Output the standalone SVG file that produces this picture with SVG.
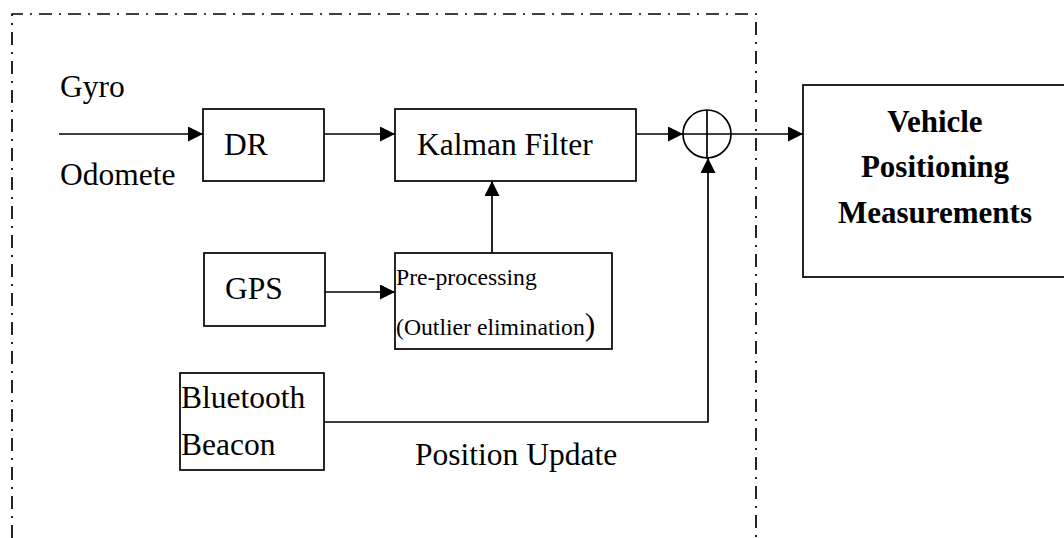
<svg xmlns="http://www.w3.org/2000/svg" width="1064" height="538" viewBox="0 0 1064 538">
  <style>
    .box { fill: #fff; stroke: #000; stroke-width: 1.7; }
    .wire { fill: none; stroke: #000; stroke-width: 1.7; }
    .frame { fill: none; stroke: #000; stroke-width: 1.7; stroke-dasharray: 13 7 2 7; }
    text { font-family: "Liberation Serif", "Times New Roman", serif; fill: #000; }
    .t { font-size: 31.5px; }
    .s { font-size: 23.7px; }
    .b { font-size: 31px; font-weight: bold; text-anchor: middle; }
  </style>
  <defs>
    <marker id="arrow" markerUnits="userSpaceOnUse" markerWidth="16" markerHeight="16" refX="15" refY="7.5" orient="auto">
      <path d="M0,0 L15,7.5 L0,15 Z" fill="#000"/>
    </marker>
  </defs>
  <rect width="1064" height="538" fill="#fff"/>

  <!-- dash-dot system boundary (open at the bottom) -->
  <path class="frame" d="M12,538 L12,14 L756,14 L756,538"/>

  <!-- connectors -->
  <g id="connectors">
    <line class="wire" x1="59" y1="134" x2="203" y2="134" marker-end="url(#arrow)"/>
    <line class="wire" x1="324" y1="134" x2="395" y2="134" marker-end="url(#arrow)"/>
    <line class="wire" x1="636" y1="134" x2="683" y2="134" marker-end="url(#arrow)"/>
    <line class="wire" x1="731" y1="134" x2="803" y2="134" marker-end="url(#arrow)"/>
    <line class="wire" x1="325" y1="292" x2="395" y2="292" marker-end="url(#arrow)"/>
    <line class="wire" x1="492" y1="253" x2="492" y2="181" marker-end="url(#arrow)"/>
    <polyline class="wire" points="324,422 708,422 708,158" marker-end="url(#arrow)"/>
  </g>

  <g id="labels">
    <text class="t" x="60" y="97">Gyro</text>
    <text class="t" x="60" y="185">Odomete</text>
    <text class="t" x="415" y="465">Position Update</text>
  </g>

  <g id="dr">
    <rect class="box" x="203" y="109" width="121" height="72"/>
    <text class="t" x="224" y="155">DR</text>
  </g>

  <g id="kalman">
    <rect class="box" x="395" y="109" width="241" height="72"/>
    <text class="t" x="417" y="155">Kalman Filter</text>
  </g>

  <g id="sum">
    <circle class="box" cx="707" cy="134" r="24"/>
    <line class="wire" x1="683" y1="134" x2="731" y2="134"/>
    <line class="wire" x1="707" y1="110" x2="707" y2="158"/>
  </g>

  <g id="gps">
    <rect class="box" x="204" y="253" width="121" height="73"/>
    <text class="t" x="225" y="299">GPS</text>
  </g>

  <g id="preprocessing">
    <rect class="box" x="395" y="253" width="217" height="96"/>
    <text class="s" x="396" y="285">Pre-processing</text>
    <text class="s" x="396" y="335">(Outlier elimination<tspan class="t">)</tspan></text>
  </g>

  <g id="beacon">
    <rect class="box" x="180" y="373" width="144" height="97"/>
    <text class="t" x="181" y="408">Bluetooth</text>
    <text class="t" x="181" y="455">Beacon</text>
  </g>

  <g id="vehicle">
    <rect class="box" x="803" y="85" width="270" height="192"/>
    <text class="b" x="935" y="132">Vehicle</text>
    <text class="b" x="935" y="177">Positioning</text>
    <text class="b" x="935" y="223">Measurements</text>
  </g>
</svg>
